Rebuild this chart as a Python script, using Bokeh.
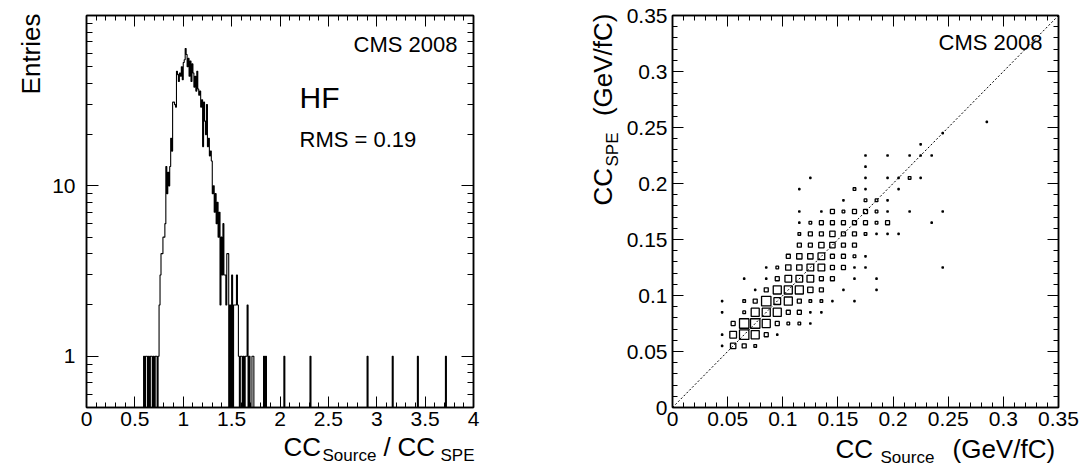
import math
import numpy as np
from bokeh.plotting import figure
from bokeh.models import Range1d, FixedTicker, LinearAxis, LogAxis
from bokeh.core.properties import value
from bokeh.layouts import row
from bokeh.embed import file_html
from bokeh.resources import INLINE

# ---------------- data : left histogram ----------------
hist_bin_width = 0.01
hist_first_bin = 0.59          # lower edge of first listed bin
hist_counts = [
    1, 0, 1, 1, 0, 1, 0, 1, 1, 0, 1, 0, 1, 1, 0, 1,          # 0.59 - 0.74
    2, 3, 4, 4, 5, 5, 6, 13, 9, 12, 10, 13, 19, 16, 31,      # 0.75 - 0.89
    31, 30, 29, 47, 45, 41, 46, 44, 50, 42,                  # 0.90 - 0.99
    53, 55, 64, 59, 50, 56, 44, 54, 41, 52,                  # 1.00 - 1.09
    46, 38, 44, 36, 47, 37, 34, 36, 29, 32,                  # 1.10 - 1.19
    17, 31, 24, 20, 30, 17, 19, 15, 16, 14,                  # 1.20 - 1.29
    9, 10, 7, 9, 6, 8, 5, 7, 2, 5,                           # 1.30 - 1.39
    3, 6, 3, 3, 2, 4, 4, 0, 2, 0,                            # 1.40 - 1.49
    3, 0, 2, 2, 2, 3, 2, 1, 0, 1,                            # 1.50 - 1.59
    1, 0, 1, 0, 1, 1, 2, 0, 1, 0,                            # 1.60 - 1.69
    0, 1, 1, 0, 0, 0, 0, 0, 0, 0,                            # 1.70 - 1.79
    0, 0, 0, 1, 0, 1,                                        # 1.80 - 1.85
]
hist_isolated = [2.04, 2.31, 2.90, 3.16, 3.42, 3.71]        # bins with a single entry

left_x_ticks = [0, 0.5, 1, 1.5, 2, 2.5, 3, 3.5, 4]
left_x_labels = ["0", "0.5", "1", "1.5", "2", "2.5", "3", "3.5", "4"]
left_y_ticks = [1, 10]
left_y_labels = ["1", "10"]

# ---------------- data : right 2D box histogram ----------------
box_x = [0.045, 0.055, 0.065, 0.075,
         0.045, 0.055, 0.065, 0.075, 0.085, 0.095,
         0.055, 0.065, 0.075, 0.085, 0.095, 0.105, 0.115, 0.125,
         0.045, 0.065, 0.075, 0.085, 0.095, 0.105, 0.115, 0.125, 0.135,
         0.045, 0.065, 0.075, 0.085, 0.095, 0.105, 0.115, 0.125, 0.135, 0.145, 0.165,
         0.075, 0.085, 0.095, 0.105, 0.115, 0.125, 0.135, 0.155, 0.185,
         0.065, 0.085, 0.095, 0.105, 0.115, 0.125, 0.135, 0.145, 0.165, 0.185,
         0.085, 0.095, 0.105, 0.115, 0.125, 0.135, 0.145, 0.155, 0.165, 0.175, 0.245,
         0.105, 0.115, 0.125, 0.135, 0.145, 0.155, 0.165, 0.175,
         0.115, 0.125, 0.135, 0.145, 0.155, 0.165,
         0.115, 0.125, 0.135, 0.145, 0.155, 0.165, 0.175, 0.185, 0.195, 0.205,
         0.115, 0.125, 0.135, 0.145, 0.155, 0.165, 0.175, 0.185, 0.195, 0.235,
         0.115, 0.135, 0.145, 0.155, 0.165, 0.175, 0.185, 0.195, 0.215, 0.245,
         0.155, 0.175, 0.185, 0.195,
         0.115, 0.165, 0.175, 0.205,
         0.125, 0.175, 0.195, 0.205, 0.215, 0.225,
         0.175,
         0.175, 0.195, 0.215, 0.225, 0.235,
         0.225,
         0.245,
         0.285]
box_y = [0.055] * 4 + [0.065] * 6 + [0.075] * 8 + [0.085] * 9 + [0.095] * 11 + \
        [0.105] * 9 + [0.115] * 10 + [0.125] * 11 + [0.135] * 8 + [0.145] * 6 + \
        [0.155] * 10 + [0.165] * 10 + [0.175] * 10 + [0.185] * 4 + [0.195] * 4 + \
        [0.205] * 6 + [0.215] * 1 + [0.225] * 5 + [0.235] * 1 + [0.245] * 1 + [0.255] * 1
box_n = [1, 4, 3, 2,
         1, 5, 7, 6, 3, 1,
         3, 7, 7, 6, 3, 2, 2, 1,
         1, 2, 6, 6, 6, 3, 3, 1, 1,
         1, 2, 3, 7, 5, 6, 3, 2, 2, 1, 1,
         1, 3, 6, 6, 6, 4, 3, 1, 1,
         1, 1, 3, 5, 5, 5, 3, 3, 1, 1,
         1, 2, 4, 4, 5, 5, 3, 3, 1, 1, 1,
         3, 4, 4, 5, 3, 3, 2, 1,
         3, 3, 4, 4, 3, 3,
         2, 3, 3, 4, 3, 3, 2, 1, 1, 1,
         1, 2, 3, 3, 3, 3, 3, 2, 3, 1,
         1, 1, 3, 2, 3, 3, 2, 1, 1, 1,
         1, 2, 2, 1,
         1, 2, 1, 1,
         1, 1, 1, 1, 2, 1,
         1,
         1, 1, 1, 1, 1,
         1,
         1,
         1]
right_range = [0, 0.35]
right_ticks = [0, 0.05, 0.1, 0.15, 0.2, 0.25, 0.3, 0.35]
right_labels = ["0", "0.05", "0.1", "0.15", "0.2", "0.25", "0.3", "0.35"]

# ---------------- style ----------------
FONT = "Liberation Sans"
TICK_FS = "21px"
BASELINE_FIX = 0.28   # empirical shift so that the glyph baseline lands on the wanted pixel


def style_axis(ax, ticker, major_in, minor_in, overrides=None, standoff=4, show_labels=True):
    ax.ticker = ticker
    ax.major_tick_in = major_in
    ax.major_tick_out = 0
    ax.minor_tick_in = minor_in
    ax.minor_tick_out = 0
    ax.axis_line_color = "black"
    ax.axis_line_width = 1.5
    ax.major_tick_line_color = "black"
    ax.minor_tick_line_color = "black"
    ax.major_tick_line_width = 1
    ax.minor_tick_line_width = 1
    ax.axis_label = None
    if show_labels:
        ax.major_label_text_font = FONT
        ax.major_label_text_font_size = TICK_FS
        ax.major_label_text_color = "black"
        ax.major_label_standoff = standoff
        if overrides:
            ax.major_label_overrides = overrides
    else:
        ax.major_label_text_font_size = "0px"
        ax.major_label_standoff = 0
        ax.major_label_overrides = {t: "" for t in ticker.ticks}


def add_text(p, anchor, frame_lb, px, py, text, size, align="left", angle=0.0):
    """Text anchored at the frame's lower-left data corner, shifted in pixels.
    (px, py) is the wanted baseline point in page pixels."""
    fl, fb = frame_lb
    fix = BASELINE_FIX * size
    if angle:
        px -= fix
    else:
        py -= fix
    p.text(x=[anchor[0]], y=[anchor[1]], text=[text],
           x_offset=px - fl, y_offset=py - fb, angle=angle,
           text_font=value(FONT), text_font_size=value(f"{size}px"),
           text_color="black", text_align=align, text_baseline="alphabetic",
           level="overlay")


# ---------------- left panel ----------------
counts = np.zeros(400)
for i, c in enumerate(hist_counts):
    counts[int(round((hist_first_bin + i * hist_bin_width) / hist_bin_width))] = c
for xv in hist_isolated:
    counts[int(round(xv / hist_bin_width))] += 1
edges = np.arange(401) * hist_bin_width
yvals = np.where(counts > 0, counts, 0.05)
yvals = np.append(yvals, yvals[-1])

p1 = figure(width=541, height=466, x_range=Range1d(0, 4), y_range=Range1d(0.5, 100),
            y_axis_type="log", output_backend="svg", toolbar_location=None,
            min_border_left=86, min_border_right=68, min_border_top=14, min_border_bottom=57)
p1.xgrid.visible = False
p1.ygrid.visible = False
p1.outline_line_color = "black"
p1.outline_line_width = 1.5
p1.background_fill_color = "white"
p1.border_fill_color = "white"

p1.step(edges, yvals, mode="after", line_color="black", line_width=1.1)

lx_minor = [round(0.1 * i, 2) for i in range(41) if i % 5]
ly_minor = [0.6, 0.7, 0.8, 0.9] + list(range(2, 10)) + list(range(20, 100, 10))
style_axis(p1.xaxis[0], FixedTicker(ticks=left_x_ticks, minor_ticks=lx_minor), 11, 5,
           dict(zip(left_x_ticks, left_x_labels)), standoff=4)
style_axis(p1.yaxis[0], FixedTicker(ticks=left_y_ticks, minor_ticks=ly_minor), 12, 6,
           dict(zip(left_y_ticks, left_y_labels)), standoff=11)
top1 = LinearAxis()
style_axis(top1, FixedTicker(ticks=left_x_ticks, minor_ticks=lx_minor), 11, 5, show_labels=False)
p1.add_layout(top1, "above")
right1 = LogAxis()
style_axis(right1, FixedTicker(ticks=left_y_ticks, minor_ticks=ly_minor), 12, 6, show_labels=False)
p1.add_layout(right1, "right")

A1 = (0, 0.5)
F1 = (86, 409)
add_text(p1, A1, F1, 38, 15, "Entries", 26, align="right", angle=math.pi / 2)
add_text(p1, A1, F1, 457, 52, "CMS 2008", 22, align="right")
add_text(p1, A1, F1, 299, 107, "HF", 30)
add_text(p1, A1, F1, 299, 147, "RMS = 0.19", 22)
add_text(p1, A1, F1, 283, 456, "CC", 26)
add_text(p1, A1, F1, 322, 462, "Source", 17)
add_text(p1, A1, F1, 383, 456, "/", 26)
add_text(p1, A1, F1, 397, 456, "CC", 26)
add_text(p1, A1, F1, 440, 462, "SPE", 17)

# ---------------- right panel ----------------
p2 = figure(width=541, height=466, x_range=Range1d(*right_range), y_range=Range1d(*right_range),
            output_backend="svg", toolbar_location=None,
            min_border_left=131, min_border_right=24, min_border_top=15, min_border_bottom=59)
p2.xgrid.visible = False
p2.ygrid.visible = False
p2.outline_line_color = "black"
p2.outline_line_width = 1.5
p2.background_fill_color = "white"
p2.border_fill_color = "white"

p2.line(right_range, right_range, line_color="black", line_width=1, line_dash="2 2")
box_scale = 0.0085 / max(box_n)
sides = [n * box_scale for n in box_n]
p2.rect(box_x, box_y, width=sides, height=sides, fill_color=None,
        line_color="black", line_width=1.3)

r_minor = [round(0.01 * i, 3) for i in range(36) if i % 5]
style_axis(p2.xaxis[0], FixedTicker(ticks=right_ticks, minor_ticks=r_minor), 11, 5,
           dict(zip(right_ticks, right_labels)), standoff=4)
style_axis(p2.yaxis[0], FixedTicker(ticks=right_ticks, minor_ticks=r_minor), 11, 5,
           dict(zip(right_ticks, right_labels)), standoff=5)
top2 = LinearAxis()
style_axis(top2, FixedTicker(ticks=right_ticks, minor_ticks=r_minor), 11, 5, show_labels=False)
p2.add_layout(top2, "above")
right2 = LinearAxis()
style_axis(right2, FixedTicker(ticks=right_ticks, minor_ticks=r_minor), 11, 5, show_labels=False)
p2.add_layout(right2, "right")

A2 = (right_range[0], right_range[0])
F2 = (672, 407)
add_text(p2, A2, F2, 1042, 48, "CMS 2008", 22, align="right")
add_text(p2, A2, F2, 610, 205, "CC", 26, align="left", angle=math.pi / 2)
add_text(p2, A2, F2, 617, 166, "SPE", 17, align="left", angle=math.pi / 2)
add_text(p2, A2, F2, 610, 13, "(GeV/fC)", 26, align="right", angle=math.pi / 2)
add_text(p2, A2, F2, 835, 456, "CC", 26)
add_text(p2, A2, F2, 880, 462, "Source", 17)
add_text(p2, A2, F2, 952, 456, "(GeV/fC)", 26)

layout = row(p1, p2)
open("out.html", "w").write(file_html(layout, INLINE))
